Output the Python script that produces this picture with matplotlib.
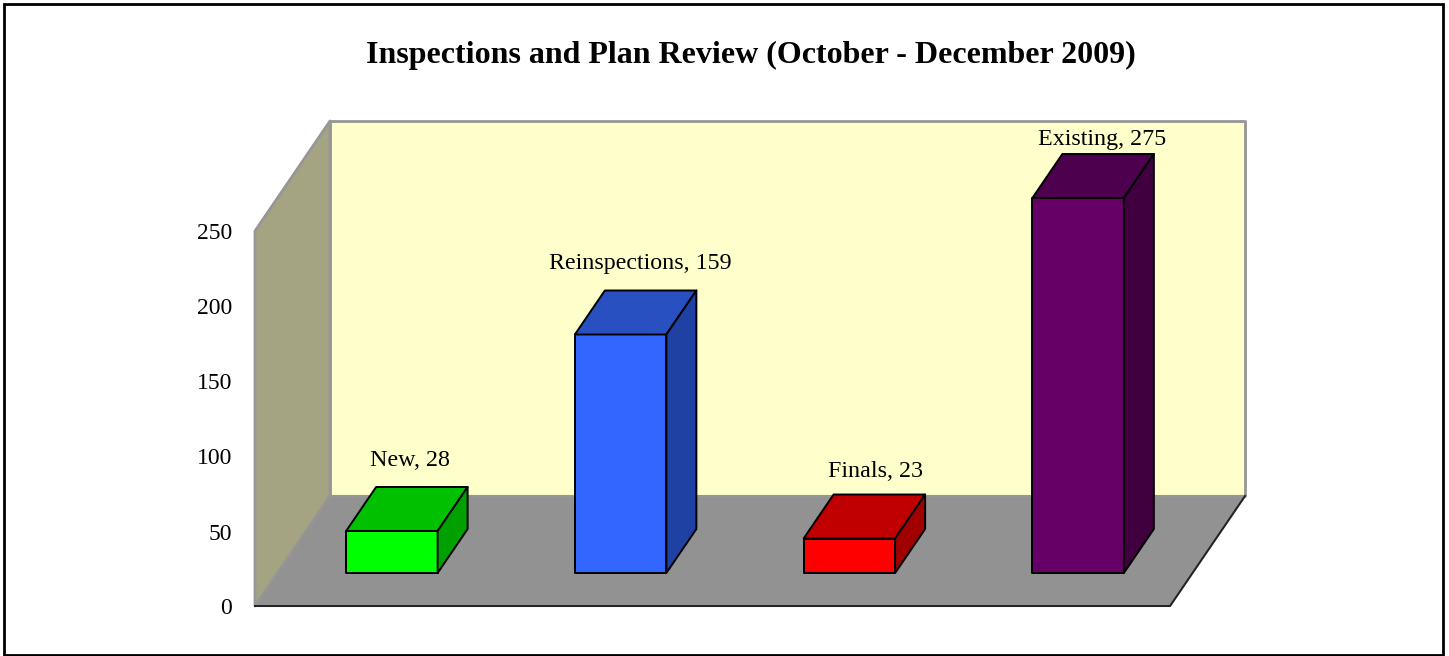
# Grafico de barras com aparencia 3D: Inspections and Plan Review
import matplotlib
matplotlib.use('Agg')
import matplotlib.pyplot as plt
from matplotlib.patches import Polygon, Rectangle

plt.rcParams['font.family'] = ['Liberation Serif', 'DejaVu Serif']

categorias = ['New', 'Reinspections', 'Finals', 'Existing']
valores = [28, 159, 23, 275]
ticks_y = [0, 50, 100, 150, 200, 250]
titulo = 'Inspections and Plan Review (October - December 2009)'

cores_frente = ['#00ff00', '#3366ff', '#ff0000', '#660066']
cores_topo = ['#00c000', '#2850c0', '#c00000', '#4d004d']
cores_lado = ['#00a000', '#1f41a3', '#a00000', '#40003f']

y_max = 250
largura_barra = 0.4
prof_ini, prof_fim = 0.3, 0.7

# escala: uma categoria = 228.75 px, uma unidade = 1.5 px
px_cat = 228.75
px_val = 1.5
px_prof_x = 75
px_prof_y = 110

# ajuste de cada rotulo em pixels, a partir do centro do topo da barra
ajuste_rotulos = [(3, 49), (5, 49), (11, 45), (9, 36)]

fig = plt.figure(figsize=(14.49, 6.56), dpi=100)
ax = fig.add_axes([0, 0, 1, 1])
ax.set_xlim(-255 / px_cat, (1449 - 255) / px_cat)
ax.set_ylim(-(656 - 606) / px_val, 606 / px_val)
ax.axis('off')


def proj(c, v, d=0.0):
    # categoria, valor e profundidade para as coordenadas do grafico
    return (c + d * px_prof_x / px_cat, v + d * px_prof_y / px_val)


def face(pontos, cor, borda, lw=1.4, z=1):
    ax.add_patch(Polygon([proj(*p) for p in pontos], closed=True, facecolor=cor,
                         edgecolor=borda, linewidth=lw, joinstyle='round', zorder=z))


n = len(categorias)
# paredes e piso
face([(0, 0, 1), (n, 0, 1), (n, y_max, 1), (0, y_max, 1)], '#ffffcc', '#969696', 2)
face([(0, 0, 0), (0, 0, 1), (0, y_max, 1), (0, y_max, 0)], '#a4a482', '#969696', 2)
face([(0, 0, 0), (n, 0, 0), (n, 0, 1), (0, 0, 1)], '#929292', '#969696', 1.5)
ax.plot(*zip(proj(0, 0), proj(n, 0), proj(n, 0, 1)), color='#222222', lw=1.4,
        solid_joinstyle='miter', zorder=2)

# barras (cortadas no maximo do eixo)
for i, (nome, valor) in enumerate(zip(categorias, valores)):
    h = min(valor, y_max)
    x0 = i + 0.5 - largura_barra / 2
    x1 = i + 0.5 + largura_barra / 2
    face([(x0, 0, prof_ini), (x1, 0, prof_ini), (x1, h, prof_ini), (x0, h, prof_ini)],
         cores_frente[i], 'black', z=3)
    face([(x0, h, prof_ini), (x1, h, prof_ini), (x1, h, prof_fim), (x0, h, prof_fim)],
         cores_topo[i], 'black', z=3)
    face([(x1, 0, prof_ini), (x1, 0, prof_fim), (x1, h, prof_fim), (x1, h, prof_ini)],
         cores_lado[i], 'black', z=3)
    ax.annotate(f'{nome}, {valor}', proj(i + 0.5, h, 0.5), xytext=ajuste_rotulos[i],
                textcoords='offset pixels', ha='center', va='center', fontsize=17.3,
                color='black', zorder=4)

# rotulos do eixo y
for t in ticks_y:
    ax.annotate(str(t), proj(0, t), xytext=(-23, -3), textcoords='offset pixels',
                ha='right', va='center', fontsize=17, color='black')

fig.text(750.5 / 1449, 1 - 55 / 656, titulo, ha='center', va='center', fontsize=23,
         fontweight='bold', color='black')

# moldura externa
fig.add_artist(Rectangle((3.5 / 1449, 1 - 654.5 / 656), 1439.5 / 1449, 651 / 656,
                         transform=fig.transFigure, fill=False, edgecolor='black', linewidth=2))

fig.savefig('out.png', dpi=100)
